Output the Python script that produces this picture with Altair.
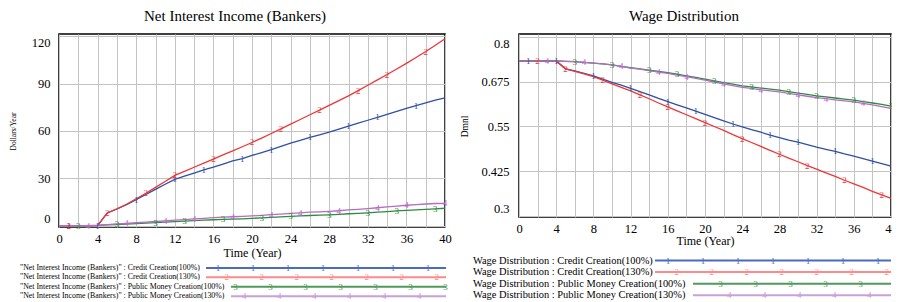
import altair as alt
import pandas as pd

SERIF = "Liberation Serif"

YEARS = list(range(41))
SERIES = ["Credit Creation(100%)", "Credit Creation(130%)",
          "Public Money Creation(100%)", "Public Money Creation(130%)"]
DIGITS = ["1", "2", "3", "4"]
LINE_COLORS = ["#2f4fa6", "#ef3535", "#2e8a3e", "#b46cc4"]
LEGEND_COLORS = ["#4a6bc0", "#ff8a8a", "#4f9a5a", "#caa0d8"]

# ---- Net Interest Income (Bankers), Dollars/Year, t = 0..40 ----
nii_cc100 = [0, 0, 0, 0, 0, 8, 10.5, 13.3, 16.5, 19.8, 23, 26.2, 29.3, 31.3, 33.3, 35.3,
             37, 39, 41, 42.5, 44.5, 46.3, 48.1, 50.2, 52.3, 54.1, 55.9, 57.6, 59.3, 61.2,
             63.1, 65, 66.8, 68.6, 70.5, 72.4, 74.3, 76, 77.8, 79.5, 81]
nii_cc130 = [0, 0, 0, 0, 0, 8, 10.6, 13.5, 17, 20.5, 24.2, 28, 31.8, 34.4, 37, 39.6,
             42.2, 44.8, 47.4, 50, 52.7, 55.5, 58.4, 61.3, 64.3, 67.3, 70.3, 73.2, 76.2, 79.2,
             82.3, 85.6, 89, 92.4, 95.8, 99.3, 102.9, 106.6, 110.4, 114.4, 118.5]
nii_pm100 = [0, 0, 0, 0, 0.1, 0.4, 0.7, 1.0, 1.3, 1.6, 1.9, 2.2, 2.5, 2.8, 3.1, 3.4,
             3.7, 3.9, 4.1, 4.3, 4.6, 4.9, 5.2, 5.5, 5.8, 6.1, 6.4, 6.6, 6.8, 7.1,
             7.5, 7.8, 8.1, 8.5, 8.9, 9.3, 9.7, 10.0, 10.3, 10.6, 11.0]
nii_pm130 = [0, 0, 0, 0, 0.2, 0.6, 1.0, 1.4, 1.8, 2.2, 2.6, 3.0, 3.4, 3.8, 4.2, 4.6,
             5.0, 5.3, 5.6, 5.8, 6.1, 6.5, 6.9, 7.3, 7.7, 8.1, 8.5, 8.7, 9.0, 9.4,
             9.9, 10.3, 10.8, 11.3, 11.8, 12.3, 12.9, 13.3, 13.7, 14.0, 14.1]
nii_marks = [[1, 4, 8, 12, 15, 19, 22, 26, 30, 33, 37],
             [1, 5, 9, 12, 16, 20, 23, 27, 31, 34, 38],
             [2, 6, 10, 13, 17, 21, 24, 28, 32, 35, 39],
             [3, 7, 11, 14, 18, 22, 25, 29, 33, 36, 40]]
nii_labels = ['"Net Interest Income (Bankers)" : ' + s for s in SERIES]

# ---- Wage Distribution, Dmnl, t = 0..40 ----
wage_cc100 = [0.734, 0.734, 0.734, 0.734, 0.734,
              0.712, 0.706, 0.699, 0.692, 0.683, 0.674, 0.666, 0.657, 0.648, 0.639,
              0.629, 0.620, 0.611, 0.602, 0.593, 0.584, 0.575, 0.566, 0.557, 0.549,
              0.541, 0.534, 0.526, 0.519, 0.512, 0.506, 0.499, 0.492, 0.486, 0.480,
              0.473, 0.467, 0.460, 0.453, 0.446, 0.439]
wage_cc130 = [0.734, 0.734, 0.734, 0.734, 0.734,
              0.712, 0.705, 0.698, 0.690, 0.680, 0.670, 0.660, 0.650, 0.639, 0.628,
              0.616, 0.605, 0.594, 0.583, 0.572, 0.561, 0.550, 0.539, 0.527, 0.516,
              0.505, 0.494, 0.483, 0.472, 0.461, 0.451, 0.440, 0.430, 0.420, 0.410,
              0.399, 0.389, 0.379, 0.368, 0.358, 0.348]
wage_pm100 = [0.734, 0.734, 0.734, 0.734, 0.734,
              0.733, 0.732, 0.730, 0.728, 0.726, 0.723, 0.719, 0.715, 0.712, 0.708,
              0.705, 0.701, 0.697, 0.692, 0.688, 0.683, 0.678, 0.673, 0.669, 0.664,
              0.661, 0.658, 0.655, 0.652, 0.648, 0.644, 0.640, 0.636, 0.633, 0.630,
              0.627, 0.624, 0.620, 0.616, 0.612, 0.607]
wage_pm130 = [0.734, 0.734, 0.734, 0.734, 0.734,
              0.733, 0.732, 0.730, 0.728, 0.726, 0.723, 0.719, 0.714, 0.711, 0.707,
              0.703, 0.699, 0.694, 0.690, 0.685, 0.680, 0.675, 0.670, 0.665, 0.660,
              0.657, 0.653, 0.650, 0.647, 0.643, 0.639, 0.635, 0.631, 0.628, 0.625,
              0.622, 0.619, 0.615, 0.611, 0.606, 0.601]
wage_marks = [[1, 4, 8, 12, 16, 19, 23, 27, 30, 34, 38],
              [2, 5, 9, 13, 16, 20, 24, 28, 31, 35, 39],
              [6, 10, 14, 17, 21, 25, 29, 32, 36, 40],
              [3, 7, 11, 15, 18, 22, 26, 30, 33, 37]]
wage_labels = ["Wage Distribution : " + s for s in SERIES]

for arr in [nii_cc100, nii_cc130, nii_pm100, nii_pm130,
            wage_cc100, wage_cc130, wage_pm100, wage_pm130]:
    assert len(arr) == len(YEARS)


def panel(title, vals, marks, labels, ydom, yticks, yfmt, ytitle, lay):
    W, H = lay["W"], lay["H"]
    rows = []
    for i, key in enumerate(SERIES):
        for t, v in zip(YEARS, vals[i]):
            rows.append({"t": t, "v": v, "s": key, "d": DIGITS[i],
                         "m": t in marks[i]})
    df = pd.DataFrame(rows)
    mk = df[df["m"]].drop(columns="m")
    df = df.drop(columns="m")

    xsc = alt.Scale(domain=[0, 40], nice=False, zero=False)
    ysc = alt.Scale(domain=ydom, nice=False, zero=False)
    csc = alt.Scale(domain=SERIES, range=LINE_COLORS)

    lines = alt.Chart(df).mark_line(strokeWidth=1.3).encode(
        x=alt.X("t:Q", scale=xsc, axis=alt.Axis(
            values=list(range(0, 41, 2)),
            labelExpr="datum.value % 4 === 0 ? datum.label : ''",
            labelFlush=False, title="Time (Year)", titleFontSize=12,
            labelPadding=lay["xlp"], titlePadding=lay["xtp"])),
        y=alt.Y("v:Q", scale=ysc, axis=alt.Axis(
            values=yticks, format=yfmt, title=ytitle,
            titleFontSize=lay["ytfs"], titleX=lay["ytx"], titleY=lay["yty"],
            titleAngle=270, titleAlign="center", titleBaseline="middle",
            labelFlush=5, labelPadding=lay["ylp"])),
        color=alt.Color("s:N", scale=csc, legend=None),
    )
    digits = alt.Chart(mk).mark_text(font=SERIF, fontSize=9, baseline="middle").encode(
        x=alt.X("t:Q", scale=xsc, axis=None),
        y=alt.Y("v:Q", scale=ysc, axis=None),
        text="d:N",
        color=alt.Color("s:N", scale=csc, legend=None),
    )

    # legend below the plot
    leg = pd.DataFrame({"label": labels, "s": SERIES, "d": DIGITS,
                        "grp": [0, 0, 1, 1]})
    ysl = alt.Scale(type="point", domain=labels, range=lay["legy"], padding=0)
    lcs = alt.Scale(domain=SERIES, range=LEGEND_COLORS)
    layers = [lines, digits]
    for g in (0, 1):
        sub = leg[leg["grp"] == g]
        x0 = lay["lstart"][g]
        layers.append(alt.Chart(sub).mark_rule(strokeWidth=2).encode(
            y=alt.Y("label:N", scale=ysl, axis=None),
            x=alt.value(x0), x2=alt.value(lay["lend"]),
            color=alt.Color("s:N", scale=lcs, legend=None)))
    layers.append(alt.Chart(leg).mark_text(
        align="left", baseline="middle", font=SERIF,
        fontSize=lay["legfs"], color="black").encode(
        y=alt.Y("label:N", scale=ysl, axis=None),
        x=alt.value(lay["ltext"]), text="label:N"))
    lm = []
    for i in range(4):
        x0 = lay["lstart"][leg["grp"][i]]
        for k in range(8):
            pos = k + i / 4
            px = lay["mbase"] + lay["mstep"] * pos
            if x0 + 3 < px <= lay["lend"] + 1.5:
                lm.append({"label": labels[i], "s": SERIES[i], "d": DIGITS[i], "pos": pos})
    layers.append(alt.Chart(pd.DataFrame(lm)).mark_text(
        font=SERIF, fontSize=9, baseline="middle").encode(
        x=alt.X("pos:Q", scale=alt.Scale(domain=[0, 1], zero=False, nice=False,
                                         range=[lay["mbase"], lay["mbase"] + lay["mstep"]]),
                axis=None),
        y=alt.Y("label:N", scale=ysl, axis=None),
        text="d:N",
        color=alt.Color("s:N", scale=lcs, legend=None)))

    return alt.layer(*layers).resolve_scale(
        x="independent", y="independent", color="independent"
    ).properties(
        width=W, height=H,
        title=alt.TitleParams(text=title, font=SERIF, fontSize=15, fontWeight="normal",
                              anchor="middle", frame="group", dx=lay["tdx"],
                              offset=lay["toff"], color="black"))


left = panel("Net Interest Income (Bankers)",
             [nii_cc100, nii_cc130, nii_pm100, nii_pm130], nii_marks, nii_labels,
             [-0.9, 121.5], [0, 30, 60, 90, 120], "d", "Dollars/Year",
             dict(W=386, H=193, xlp=5, xtp=3, ylp=9, ytfs=7.5, ytx=-46, yty=97,
                  legy=[233.9, 262.2], lstart=[147, 172], lend=387, legfs=7.85,
                  ltext=-39, mbase=159, mstep=35, tdx=-17, toff=10))
right = panel("Wage Distribution",
              [wage_cc100, wage_cc130, wage_pm100, wage_pm130], wage_marks, wage_labels,
              [0.2958, 0.8098], [0.3, 0.425, 0.55, 0.675, 0.8], ".3~g", "Dmnl",
              dict(W=372, H=183, xlp=5, xtp=1, ylp=10, ytfs=9.5, ytx=-55, yty=92,
                   legy=[226.5, 261.2], lstart=[136, 174], lend=372, legfs=10.4,
                   ltext=-46, mbase=149, mstep=35, tdx=-21, toff=10))

chart = alt.hconcat(left, right, spacing=74, bounds="flush").configure_view(
    stroke="black", strokeWidth=1.5
).configure_axis(
    domain=False, ticks=False, grid=True, gridColor="#c4c4c4", gridWidth=1,
    labelFont=SERIF, labelFontSize=12.5, labelColor="black",
    titleFont=SERIF, titleFontWeight="normal", titleColor="black",
).properties(padding={"left": 0, "top": 0, "right": -6, "bottom": 0},
             background="white")

chart.save("out.html", embed_options={"renderer": "svg", "actions": False})
